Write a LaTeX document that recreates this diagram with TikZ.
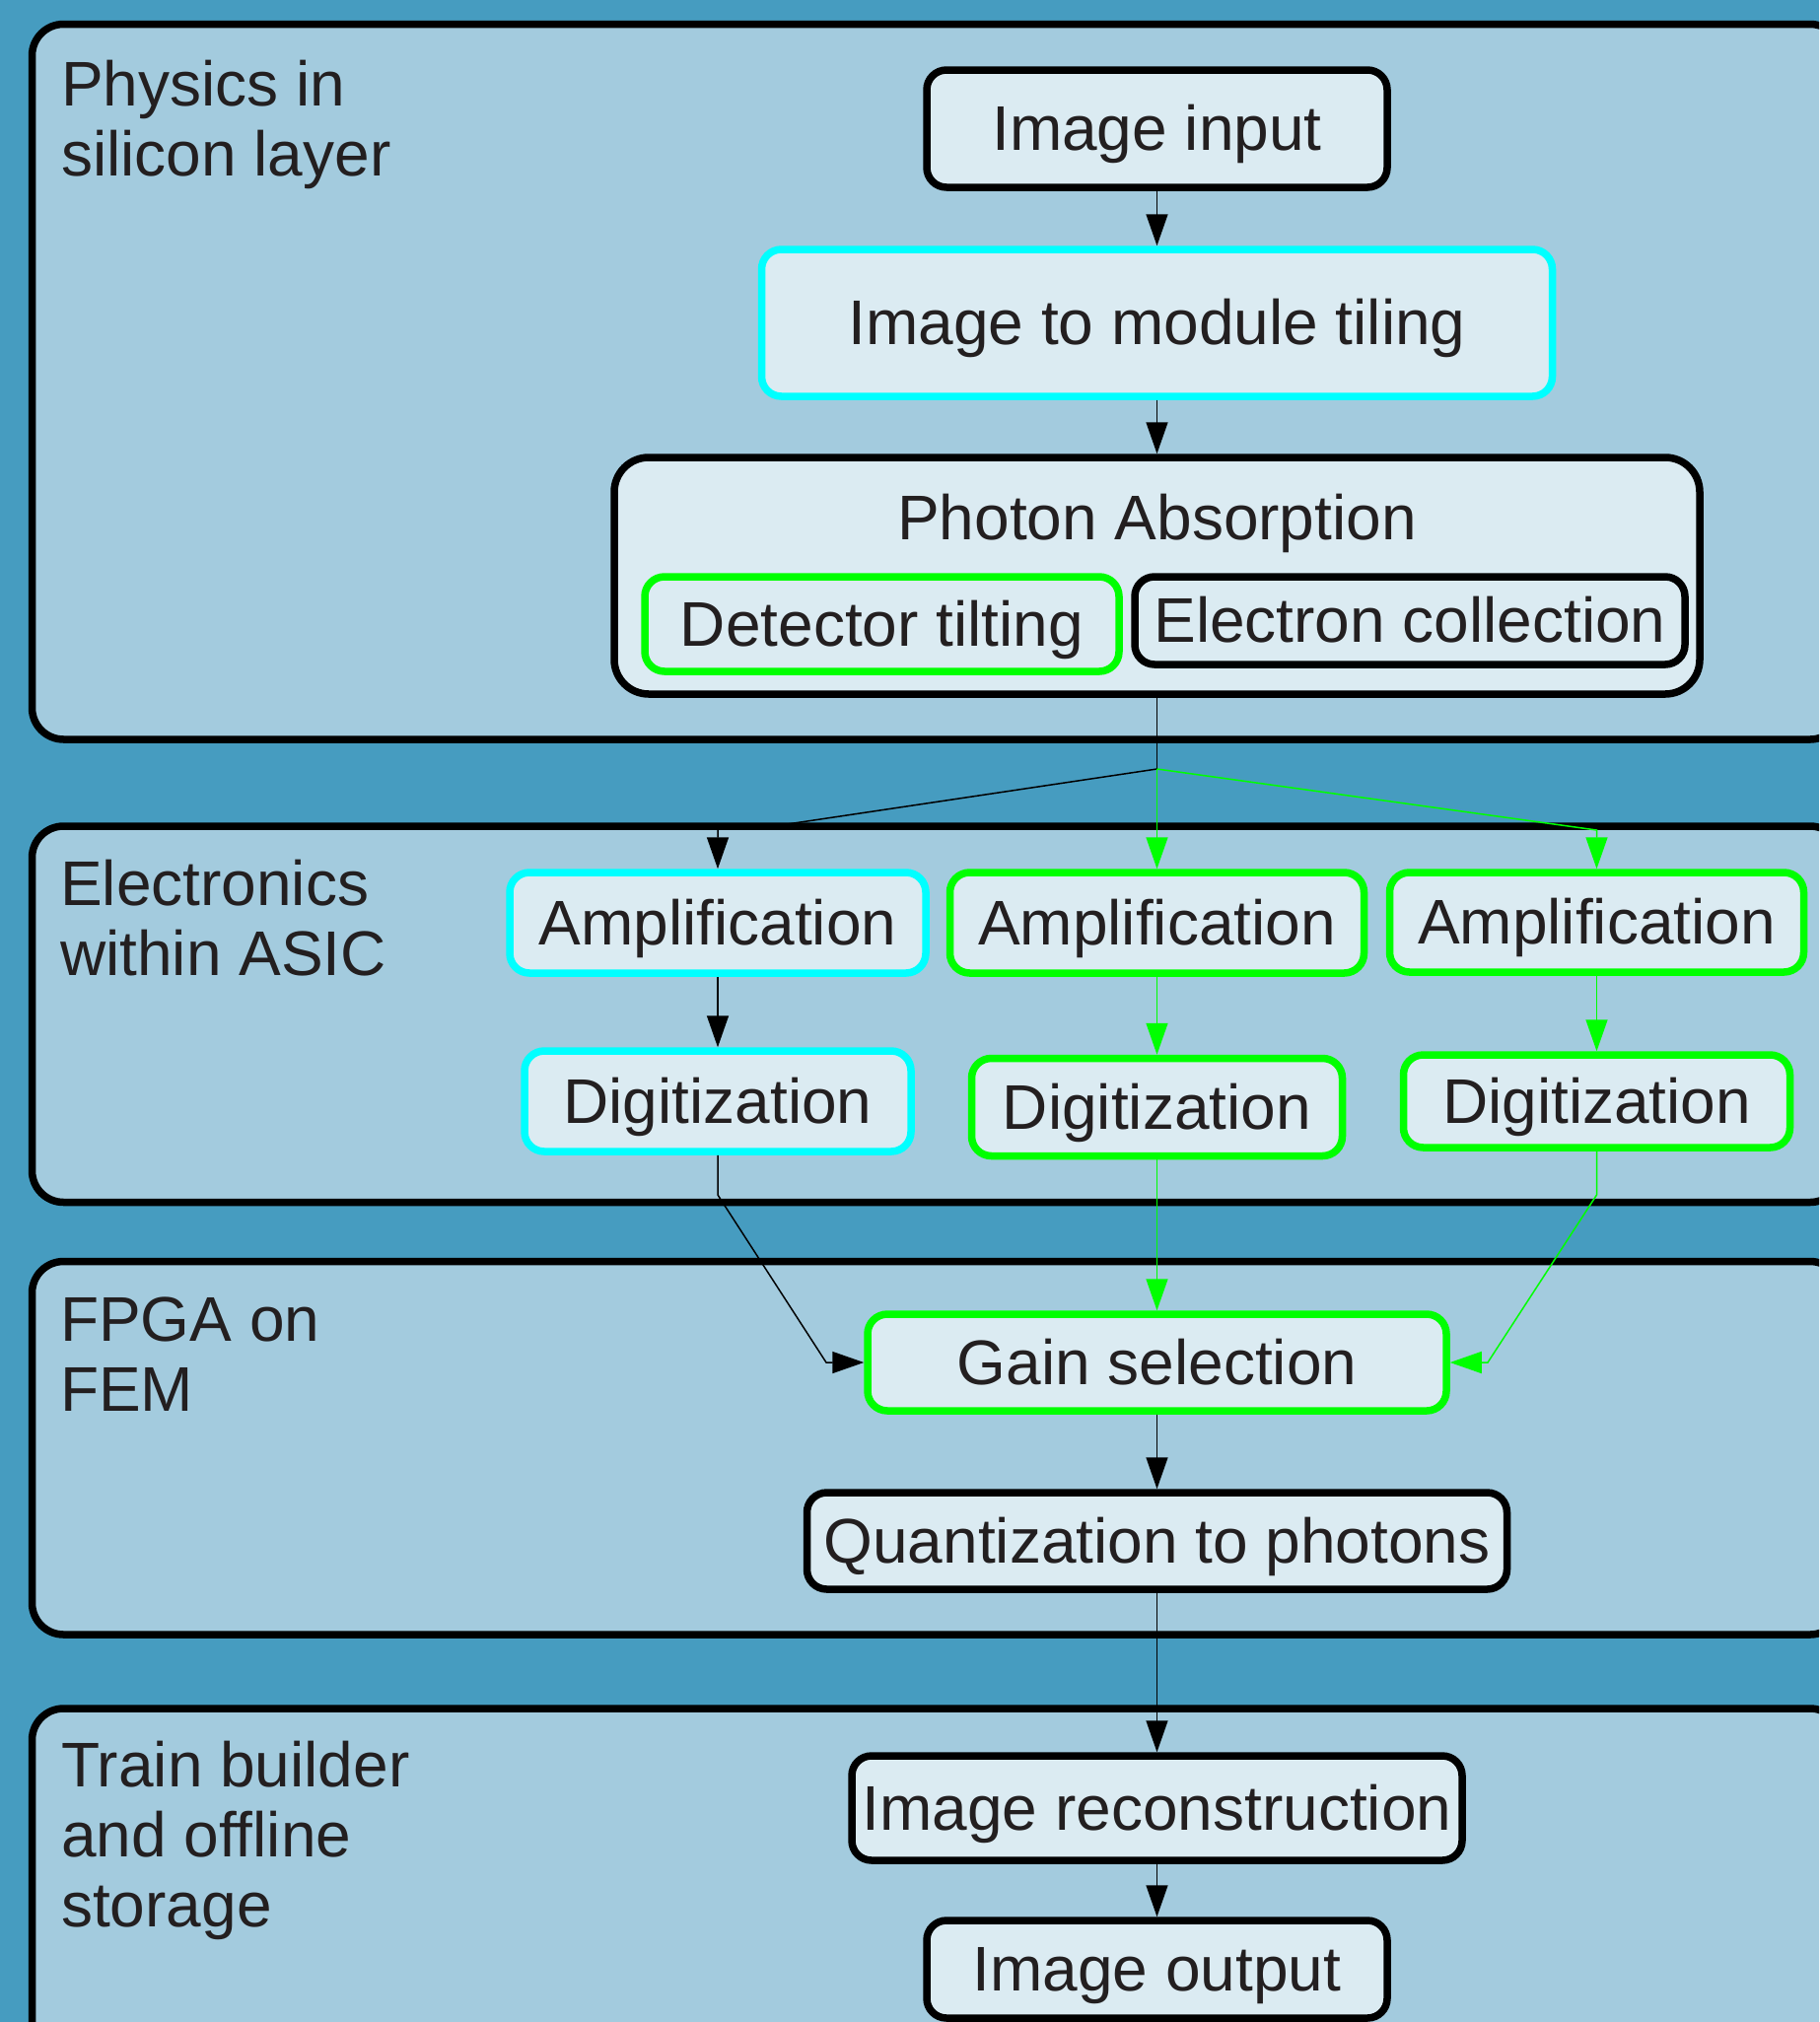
\documentclass[tikz,border=0pt]{standalone}
\usepackage{fontspec}
\setmainfont{Liberation Sans}
\usetikzlibrary{arrows.meta}

\definecolor{bgblue}{RGB}{70,156,192}
\definecolor{panelblue}{RGB}{163,203,222}
\definecolor{boxfill}{RGB}{219,235,242}
\definecolor{ink}{RGB}{35,31,32}
\definecolor{cyanline}{RGB}{0,255,255}
\definecolor{greenline}{RGB}{0,255,0}

\newcommand\bigfont{\fontsize{64}{71}\selectfont}

\tikzset{
  panel/.style={draw=black, line width=7.5pt, fill=panelblue, rounded corners=32pt},
  box/.style={draw=black, line width=7.5pt, fill=boxfill, rounded corners=20pt,
    inner sep=0pt, text=ink, font=\bigfont, text height=57.5pt, text depth=13.5pt},
  cbox/.style={box, draw=cyanline},
  gbox/.style={box, draw=greenline},
  paneltitle/.style={anchor=base west, inner sep=0pt, text=ink, font=\bigfont},
  flow/.style={line width=1.5pt, -{Triangle[length=32pt,width=22pt]}},
  gflow/.style={flow, greenline},
  link/.style={line width=1.5pt},
}

\begin{document}
\begin{tikzpicture}[x=1pt, y=-1pt]
  \useasboundingbox (0,0) rectangle (1845,2051);
  \clip (0,0) rectangle (1845,2051);
  \fill[bgblue] (0,0) rectangle (1845,2051);

  % stage panels
  \draw[panel] (32.5,24.5) rectangle (1868,750);
  \draw[panel] (32.5,838) rectangle (1868,1219.5);
  \draw[panel] (32.5,1279.5) rectangle (1868,1658);
  \draw[panel] (32.5,1733) rectangle (1868,2120);

  \node[paneltitle] (t1) at (62,107) {\parbox[t]{600pt}{\raggedright Physics in\\silicon layer}};
  \node[paneltitle] (t2) at (61,918) {\parbox[t]{600pt}{\raggedright Electronics\\within ASIC}};
  \node[paneltitle] (t3) at (61,1360) {\parbox[t]{600pt}{\raggedright FPGA on\\FEM}};
  \node[paneltitle] (t4) at (62,1812) {\parbox[t]{600pt}{\raggedright Train builder\\and offline\\storage}};

  % processing steps
  \node[box, minimum width=467pt, minimum height=119pt] (in) at (1173.5,130.5) {Image input};
  \node[cbox, minimum width=802pt, minimum height=149pt] (tile) at (1173.5,327.5) {Image to module tiling};
  \node[box, rounded corners=35pt, minimum width=1101pt, minimum height=240pt] (ph) at (1173.5,584) {};
  \node[anchor=base, inner sep=0pt, text=ink, font=\bigfont] (phT) at (1173.5,547) {Photon Absorption};
  \node[gbox, minimum width=481pt, minimum height=96pt] (tilt) at (894.5,633) {Detector tilting};
  \node[box, minimum width=558pt, minimum height=89pt] (elec) at (1430,629.5) {Electron collection};

  \node[cbox, minimum width=422pt, minimum height=102pt] (amp1) at (728,936) {Amplification};
  \node[gbox, minimum width=420pt, minimum height=102pt] (amp2) at (1173.5,936) {Amplification};
  \node[gbox, minimum width=420pt, minimum height=101pt] (amp3) at (1619.5,935.5) {Amplification};

  \node[cbox, minimum width=392pt, minimum height=102pt] (dig1) at (728,1117) {Digitization};
  \node[gbox, minimum width=376pt, minimum height=99pt] (dig2) at (1173.5,1123) {Digitization};
  \node[gbox, minimum width=392pt, minimum height=94pt] (dig3) at (1619.5,1117) {Digitization};

  \node[gbox, minimum width=587pt, minimum height=98pt] (gain) at (1173.5,1382) {Gain selection};
  \node[box, minimum width=710pt, minimum height=98pt] (quant) at (1173.5,1563) {Quantization to photons};
  \node[box, minimum width=619pt, minimum height=106pt] (recon) at (1173.5,1834) {Image reconstruction};
  \node[box, minimum width=467pt, minimum height=99pt] (out) at (1173.5,1997.5) {Image output};

  % connectors
  \coordinate (split) at (1173.5,780);
  \draw[flow] (in.south) -- (tile.north);
  \draw[flow] (tile.south) -- (ph.north);
  \draw[link] (ph.south) -- (split);
  \draw[flow] (split) -- (785,838) -| (amp1.north);
  \draw[gflow] (split) -- (amp2.north);
  \draw[gflow] (split) -- (1619.5,842) -- (amp3.north);

  \draw[flow] (amp1.south) -- (dig1.north);
  \draw[gflow] (amp2.south) -- (dig2.north);
  \draw[gflow] (amp3.south) -- (dig3.north);

  \draw[flow] (dig1.south) -- (728,1212) -- (838,1382) -- (gain.west);
  \draw[gflow] (dig2.south) -- (gain.north);
  \draw[gflow] (dig3.south) -- (1619.5,1212) -- (1509,1382) -- (gain.east);

  \draw[flow] (gain.south) -- (quant.north);
  \draw[flow] (quant.south) -- (recon.north);
  \draw[flow] (recon.south) -- (out.north);
\end{tikzpicture}
\end{document}
